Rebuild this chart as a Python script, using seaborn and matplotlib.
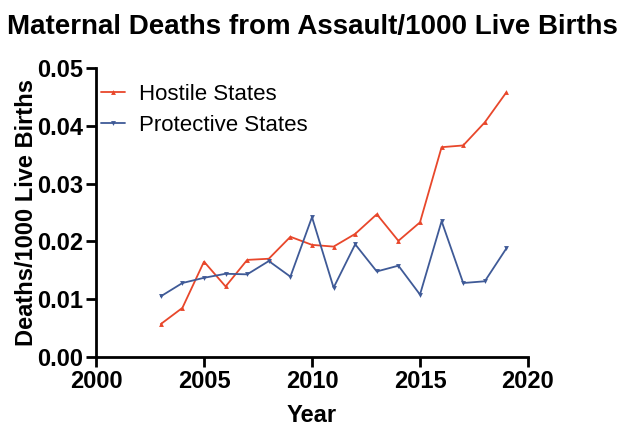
import numpy as np
import pandas as pd
import seaborn as sns
import matplotlib.pyplot as plt

years = list(range(2003, 2020))
hostile = [0.0057, 0.0085, 0.0165, 0.0122, 0.0168, 0.0170, 0.0208, 0.0194, 0.0191,
           0.0213, 0.0247, 0.0201, 0.0233, 0.0363, 0.0366, 0.0406, 0.0458]
protective = [0.0105, 0.0128, 0.0137, 0.0144, 0.0143, 0.0166, 0.0139, 0.0242, 0.0120,
              0.0195, 0.0148, 0.0158, 0.0108, 0.0235, 0.0128, 0.0131, 0.0188]
groups = ["Hostile States", "Protective States"]
colors = ["#E8472B", "#3F5A97"]

df = pd.DataFrame({
    "Year": years * 2,
    "Rate": hostile + protective,
    "Group": [groups[0]] * len(years) + [groups[1]] * len(years),
})

sns.set_theme(style="ticks")
plt.rcParams['font.family'] = ['Liberation Sans', 'DejaVu Sans']
plt.rcParams['text.color'] = 'black'
plt.rcParams['axes.labelcolor'] = 'black'
plt.rcParams['xtick.color'] = 'black'
plt.rcParams['ytick.color'] = 'black'

fig = plt.figure(figsize=(6.24, 4.32), dpi=100)
ax = fig.add_axes([96 / 624, 1 - 357 / 432, 432 / 624, 289 / 432])
sns.lineplot(data=df, x="Year", y="Rate", hue="Group", style="Group",
             palette=colors, markers=["^", "v"], dashes=False, markersize=3.5,
             markeredgewidth=0, linewidth=1.3, ax=ax)

ax.set_xlim(2000, 2020)
ax.set_ylim(0, 0.05)
ax.set_xticks([2000, 2005, 2010, 2015, 2020])
ax.set_yticks([0.0, 0.01, 0.02, 0.03, 0.04, 0.05])
ax.set_yticklabels(["0.00", "0.01", "0.02", "0.03", "0.04", "0.05"])
for lab in ax.get_xticklabels() + ax.get_yticklabels():
    lab.set_fontweight("bold")
    lab.set_fontsize(17)
ax.tick_params(width=2, length=7, color="black", pad=2)
for s in ["left", "bottom"]:
    ax.spines[s].set_linewidth(2)
    ax.spines[s].set_color("black")
sns.despine(ax=ax)

ax.set_xlabel("Year", fontsize=17, fontweight="bold", labelpad=8)
ax.set_ylabel("Deaths/1000 Live Births", fontsize=17, fontweight="bold", labelpad=-0.5)
fig.suptitle("Maternal Deaths from Assault/1000 Live Births", fontsize=20,
             fontweight="bold", x=0.5, y=0.968)

ax.legend(title=None, loc="upper left", bbox_to_anchor=(-0.025, 1.0), frameon=False,
          fontsize=16, handlelength=1.1, handletextpad=0.6, labelspacing=0.45,
          borderaxespad=0.3)

fig.savefig("out.png", dpi=100)
